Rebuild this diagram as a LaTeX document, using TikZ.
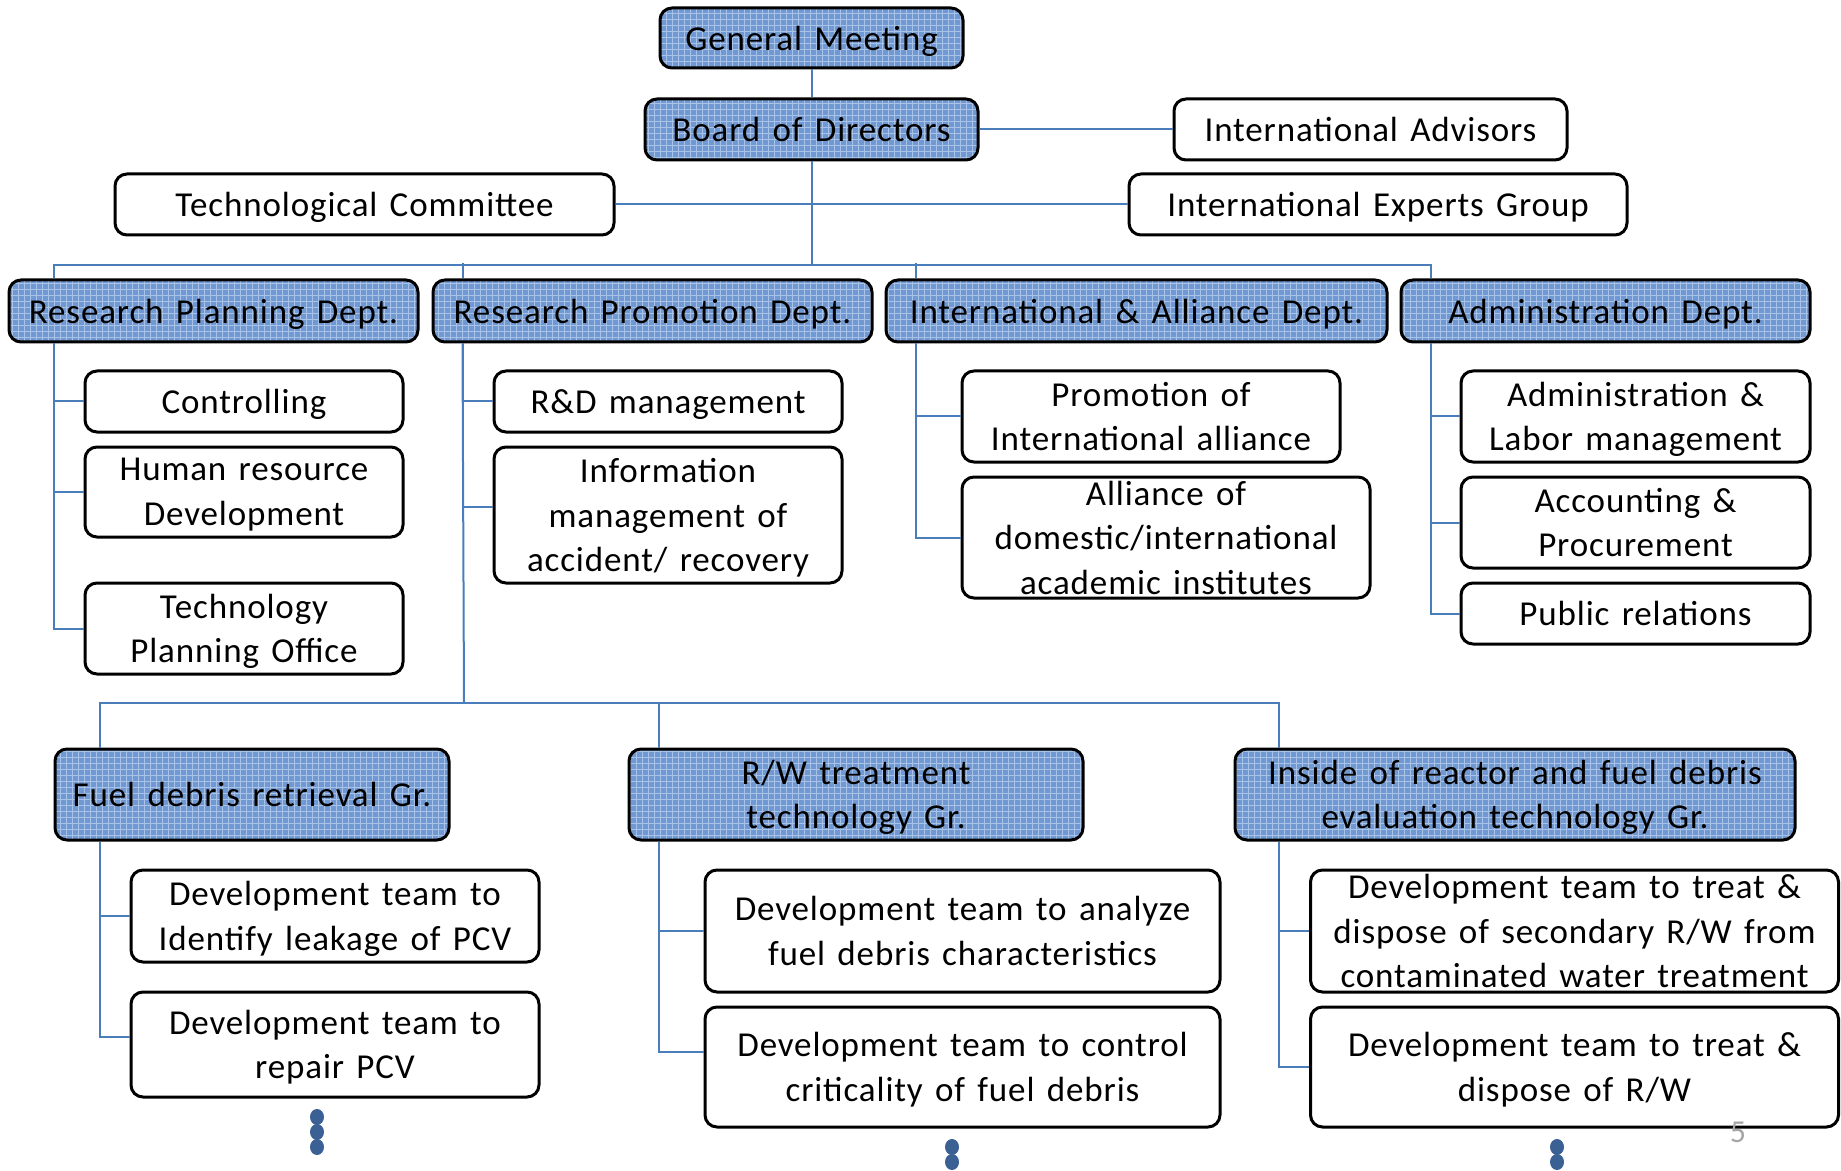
\documentclass[tikz,border=0pt]{standalone}
\usepackage{fontspec}
\setmainfont{Carlito}[LetterSpace=2.5,WordSpace=1.4]
\usepackage{tikz}
\usetikzlibrary{patterns,calc}

\definecolor{linkblue}{RGB}{74,126,187}
\definecolor{boxblue}{RGB}{112,152,210}
\definecolor{gridblue}{RGB}{168,194,232}
\definecolor{dotblue}{RGB}{58,96,148}

\tikzset{
  box/.style={draw=black, line width=1.5pt, rounded corners=6pt, align=center,
    inner sep=0pt, text depth=0pt, font=\fontsize{17.5}{22.3}\selectfont},
  unit/.style={box, preaction={fill=boxblue}, pattern=grid, pattern color=gridblue},
  link/.style={draw=linkblue, line width=1pt}
}

\begin{document}
\begin{tikzpicture}[x=0.5pt,y=-0.5pt]
\useasboundingbox (0,0) rectangle (1841,1171);

% Top management
\node[unit, minimum width=151.5pt, minimum height=30pt] (gm) at (811.5,38) {General Meeting};
\node[unit, minimum width=166.5pt, minimum height=30.5pt] (bod) at (811.5,129.5) {Board of Directors};
\node[box, minimum width=196.5pt, minimum height=30.5pt] (advisors) at (1370.5,129.5) {International Advisors};
\node[box, minimum width=249.5pt, minimum height=30.5pt] (techcom) at (364.5,204.5) {Technological Committee};
\node[box, minimum width=249pt, minimum height=30.5pt] (experts) at (1378,204.5) {International Experts Group};

% Departments
\node[unit, minimum width=204.5pt, minimum height=31pt] (rpd) at (213.5,311) {Research Planning Dept.};
\node[unit, minimum width=219.5pt, minimum height=31pt] (rpm) at (652.5,311) {Research Promotion Dept.};
\node[unit, minimum width=250.5pt, minimum height=31pt] (iad) at (1136.5,311) {International \& Alliance Dept.};
\node[unit, minimum width=204.5pt, minimum height=31pt] (adm) at (1605.5,311) {Administration Dept.};

% Sections
\node[box, minimum width=159pt, minimum height=30.5pt] (ctrl) at (244,401.5) {Controlling};
\node[box, minimum width=159pt, minimum height=45pt] (hrd) at (244,492) {Human resource\\Development};
\node[box, minimum width=159pt, minimum height=45.5pt] (tpo) at (244,628.5) {Technology\\Planning Office};

\node[box, minimum width=174pt, minimum height=30.5pt] (rdm) at (668,401.5) {R\&D management};
\node[box, minimum width=174pt, minimum height=68pt] (info) at (668,515) {Information\\management of\\accident/ recovery};

\node[box, minimum width=189pt, minimum height=45.5pt] (prom) at (1151,416.5) {Promotion of\\International alliance};
\node[box, minimum width=204pt, minimum height=60.5pt] (alli) at (1166,537.5) {Alliance of\\domestic/international\\academic institutes};

\node[box, minimum width=174.5pt, minimum height=45.5pt] (labor) at (1635.5,416.5) {Administration \&\\Labor management};
\node[box, minimum width=174.5pt, minimum height=45.5pt] (acct) at (1635.5,522.5) {Accounting \&\\Procurement};
\node[box, minimum width=174.5pt, minimum height=30.5pt] (pr) at (1635.5,613.5) {Public relations};

% Groups
\node[unit, minimum width=197pt, minimum height=45.5pt] (fuel) at (252,794.5) {Fuel debris retrieval Gr.};
\node[unit, minimum width=227pt, minimum height=45.5pt] (rw) at (856,794.5) {R/W treatment\\technology Gr.};
\node[unit, minimum width=280pt, minimum height=45.5pt] (inside) at (1515,794.5) {Inside of reactor and fuel debris\\evaluation technology Gr.};

% Teams
\node[box, minimum width=204pt, minimum height=46pt] (leak) at (335,916) {Development team to\\Identify leakage of PCV};
\node[box, minimum width=204pt, minimum height=52.5pt] (repair) at (335,1044.5) {Development team to\\repair PCV};
\node[box, minimum width=257.5pt, minimum height=61pt] (analyze) at (962.5,931) {Development team to analyze\\fuel debris characteristics};
\node[box, minimum width=257.5pt, minimum height=60pt] (control) at (962.5,1067) {Development team to control\\criticality of fuel debris};
\node[box, minimum width=264pt, minimum height=61pt] (secondary) at (1574.5,931) {Development team to treat \&\\dispose of secondary R/W from\\contaminated water treatment};
\node[box, minimum width=264pt, minimum height=60pt] (rwdispose) at (1574.5,1067) {Development team to treat \&\\dispose of R/W};

% Connectors
\draw[link] (gm) -- (bod);
\draw[link] (bod) -- (advisors);
\draw[link] (techcom) -- (experts);
\coordinate (topbus) at (811.5,265);
\draw[link] (bod.south) -- (topbus);
\draw[link] ([xshift=23pt]rpd.north west) |- (topbus) -| ([xshift=15.5pt]adm.north west);
\foreach \d in {rpm,iad}
  \draw[link] ([xshift=15.5pt]\d.north west) -- ++(0,7.5pt);

\foreach \c in {ctrl,hrd,tpo}
  \draw[link] ([xshift=23pt]rpd.south west) |- (\c.west);
\draw[link] ([xshift=15.5pt]rpm.south west) |- (rdm.west);
\draw[link] ([xshift=15.5pt]rpm.south west) |- ([yshift=4pt]info.west);
\foreach \c in {prom,alli}
  \draw[link] ([xshift=15.5pt]iad.south west) |- (\c.west);
\foreach \c in {labor,acct,pr}
  \draw[link] ([xshift=15.5pt]adm.south west) |- (\c.west);

\coordinate (midbus) at (464,703);
\draw[link] ([xshift=15.5pt]rpm.south west) -- (midbus);
\draw[link] ([xshift=23pt]fuel.north west) |- (midbus) -| ([xshift=22.5pt]inside.north west);
\draw[link] ([xshift=15.5pt]rw.north west) -- ++(0,23pt);

\draw[link] ([xshift=23pt]fuel.south west) |- (leak.west);
\draw[link] ([xshift=23pt]fuel.south west) |- ([yshift=3.75pt]repair.west);
\draw[link] ([xshift=15.5pt]rw.south west) |- (analyze.west);
\draw[link] ([xshift=15.5pt]rw.south west) |- ([yshift=7.5pt]control.west);
\foreach \c in {secondary,rwdispose}
  \draw[link] ([xshift=22.5pt]inside.south west) |- (\c.west);

% More teams
\foreach \p in {(317,1117),(317,1132),(317,1147),(952,1147),(952,1162),(1557,1147),(1557,1162)}
  \fill[dotblue] \p ellipse (3.5pt and 4pt);

\node[text=gray!70, font=\fontsize{16}{19}\selectfont] (pageno) at (1738,1132) {5};
\end{tikzpicture}
\end{document}
